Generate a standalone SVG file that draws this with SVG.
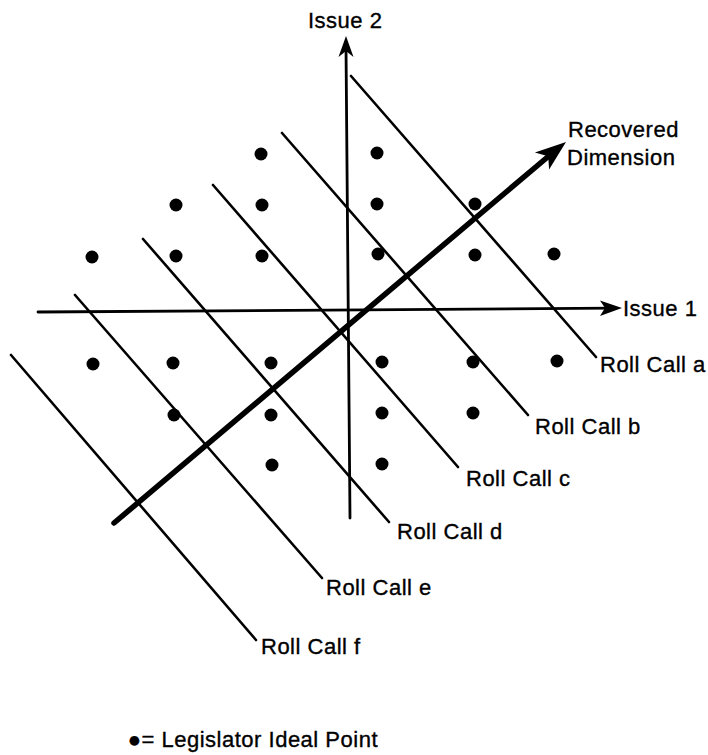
<svg xmlns="http://www.w3.org/2000/svg" width="708" height="755" viewBox="0 0 708 755">
<style>
.t{font-family:"Liberation Sans","Arial",sans-serif;font-size:22px;letter-spacing:0.5px;fill:#000;stroke:#000;stroke-width:0.35}
.ax{stroke:#000;stroke-width:2.8;fill:none;stroke-linecap:round}
.rc{stroke:#000;stroke-width:2.6;fill:none;stroke-linecap:round}
.rd{stroke:#000;stroke-width:5.5;fill:none;stroke-linecap:round}
.pt{fill:#000}
</style>
<rect width="708" height="755" fill="#fff"/>
<g id="connectors">
  <g id="issue1-axis">
    <line class="ax" x1="38" y1="312" x2="612" y2="308.2"/>
    <polygon points="622,308 600,300.5 605,308 600,316" fill="#000"/>
  </g>
  <g id="issue2-axis">
    <line class="ax" x1="350" y1="518" x2="346" y2="47"/>
    <polygon points="346,36 338.5,57 346,51 353.5,57" fill="#000"/>
  </g>
  <g id="roll-call-lines">
    <line id="rc-a" class="rc" x1="351" y1="76" x2="596" y2="357"/>
    <line id="rc-b" class="rc" x1="282" y1="133" x2="528" y2="415"/>
    <line id="rc-c" class="rc" x1="213" y1="185" x2="458" y2="467"/>
    <line id="rc-d" class="rc" x1="143" y1="239" x2="389" y2="522"/>
    <line id="rc-e" class="rc" x1="75" y1="295" x2="322" y2="578"/>
    <line id="rc-f" class="rc" x1="11" y1="355" x2="256" y2="640"/>
  </g>
  <g id="recovered-dimension">
    <line class="rd" x1="114" y1="523" x2="550" y2="155"/>
    <polygon points="566,142 549.1,169.4 548.2,156.2 534.9,152.6" fill="#000"/>
  </g>
</g>
<g id="legislators" class="pt">
  <circle cx="261" cy="154" r="6.5"/><circle cx="377" cy="153" r="6.5"/>
  <circle cx="176" cy="205" r="6.5"/><circle cx="262" cy="205" r="6.5"/><circle cx="377" cy="204" r="6.5"/><circle cx="475" cy="204" r="6.5"/>
  <circle cx="92" cy="257" r="6.5"/><circle cx="176" cy="256" r="6.5"/><circle cx="262" cy="256" r="6.5"/><circle cx="378" cy="254" r="6.5"/><circle cx="475" cy="255" r="6.5"/><circle cx="554" cy="254" r="6.5"/>
  <circle cx="93" cy="364" r="6.5"/><circle cx="173" cy="363" r="6.5"/><circle cx="271" cy="363" r="6.5"/><circle cx="382" cy="362" r="6.5"/><circle cx="473" cy="362" r="6.5"/><circle cx="557" cy="361" r="6.5"/>
  <circle cx="174" cy="415" r="6.5"/><circle cx="271" cy="415" r="6.5"/><circle cx="382" cy="413" r="6.5"/><circle cx="473" cy="413" r="6.5"/>
  <circle cx="272" cy="465" r="6.5"/><circle cx="382" cy="464" r="6.5"/>
</g>
<g id="labels">
  <text id="lbl-issue2" class="t" x="308" y="28">Issue 2</text>
  <text id="lbl-issue1" class="t" x="623" y="316">Issue 1</text>
  <text id="lbl-recovered" class="t" x="568" y="137">Recovered</text>
  <text id="lbl-dimension" class="t" x="567" y="165">Dimension</text>
  <text id="lbl-rc-a" class="t" x="600" y="372">Roll Call a</text>
  <text id="lbl-rc-b" class="t" x="535" y="434">Roll Call b</text>
  <text id="lbl-rc-c" class="t" x="466" y="486">Roll Call c</text>
  <text id="lbl-rc-d" class="t" x="397" y="539">Roll Call d</text>
  <text id="lbl-rc-e" class="t" x="326" y="595">Roll Call e</text>
  <text id="lbl-rc-f" class="t" x="261" y="654">Roll Call f</text>
</g>
<g id="legend">
  <text class="t" x="378" y="747" text-anchor="end">●= Legislator Ideal Point</text>
</g>
</svg>
